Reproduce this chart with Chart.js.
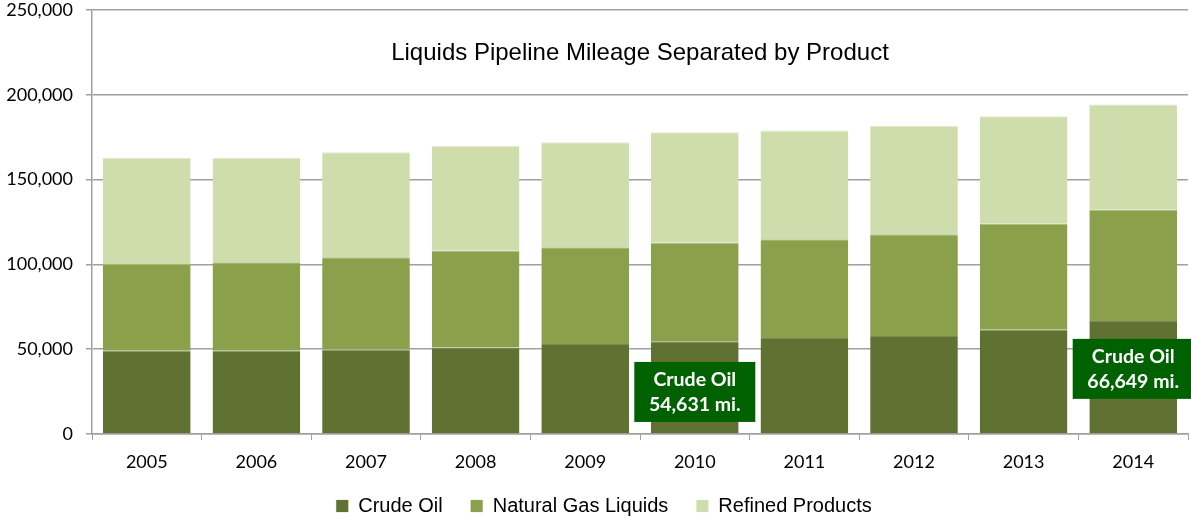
<!DOCTYPE html>
<html>
<head>
<meta charset="utf-8">
<script src="https://cdn.jsdelivr.net/npm/chart.js@4"></script>
<style>
    html, body { margin: 0; padding: 0; background: #fff; }
    #wrap { width: 1191px; height: 517px; }
</style>
</head>
<body>
<div id="wrap"><canvas id="chart" width="1191" height="517"></canvas></div>
<script>
// Data
const years = ['2005', '2006', '2007', '2008', '2009', '2010', '2011', '2012', '2013', '2014'];
const crudeOil = [49050, 49050, 49820, 51000, 53010, 54631, 56560, 57740, 61460, 66649];
const naturalGasLiquids = [51240, 52190, 54370, 57150, 57090, 58070, 58270, 60050, 62650, 65740];
const refinedProducts = [62650, 61700, 61880, 61640, 61880, 65190, 64070, 63830, 63240, 61880];
const yTicks = [0, 50000, 100000, 150000, 200000, 250000];
const chartTitle = 'Liquids Pipeline Mileage Separated by Product';

// Callout boxes on the crude oil bars
const callouts = [
    { index: 5, lines: ['Crude Oil', '54,631 mi.'] },
    { index: 9, lines: ['Crude Oil', '66,649 mi.'] }
];

const fmt = v => v.toLocaleString('en-US');

// Title drawn inside the plot area
const titlePlugin = {
    id: 'innerTitle',
    afterDraw(chart) {
        const { ctx, chartArea } = chart;
        ctx.save();
        ctx.fillStyle = '#000';
        ctx.font = '24px "Liberation Sans", Arial, sans-serif';
        ctx.textAlign = 'center';
        ctx.textBaseline = 'middle';
        ctx.fillText(chartTitle, (chartArea.left + chartArea.right) / 2, chartArea.top + 43);
        ctx.restore();
    }
};

const calloutPlugin = {
    id: 'callouts',
    afterDraw(chart) {
        const { ctx, scales } = chart;
        const offsets = { 5: 24800, 9: 38400 }; // vertical centre in axis units
        ctx.save();
        callouts.forEach(c => {
            const cx = scales.x.getPixelForValue(c.index);
            const cy = scales.y.getPixelForValue(offsets[c.index]);
            const w = 121, h = 60;
            ctx.fillStyle = '#006100';
            ctx.fillRect(cx - w / 2, cy - h / 2, w, h);
            ctx.fillStyle = '#fff';
            ctx.font = 'bold 19.5px Lato, "Open Sans", sans-serif';
            ctx.textAlign = 'center';
            ctx.textBaseline = 'middle';
            ctx.fillText(c.lines[0], cx, cy - 12);
            ctx.fillText(c.lines[1], cx, cy + 13);
        });
        ctx.restore();
    }
};

// pull the legend up a little so the x labels keep room, nudge it right
const legendShift = {
    id: 'legendShift',
    afterLayout(chart) {
        const l = chart.legend;
        l.top -= 8;
        l.bottom -= 8;
        l.left += 10;
        l.right += 10;
    }
};

const ctx = document.getElementById('chart').getContext('2d');
new Chart(ctx, {
    type: 'bar',
    data: {
        labels: years,
        datasets: [
            { label: 'Crude Oil', data: crudeOil, backgroundColor: '#5F7232', borderColor: '#7A8A55', borderWidth: { top: 1 } },
            { label: 'Natural Gas Liquids', data: naturalGasLiquids, backgroundColor: '#8AA04B', borderColor: '#A7B777', borderWidth: { top: 1 } },
            { label: 'Refined Products', data: refinedProducts, backgroundColor: '#CFDDAD', borderColor: '#E2EBCB', borderWidth: { top: 1 } }
        ]
    },
    options: {
        responsive: false,
        animation: false,
        layout: { padding: { top: 0, right: 3, bottom: -17 } },
        datasets: { bar: { categoryPercentage: 1, barPercentage: 0.8 } },
        plugins: {
            legend: {
                position: 'bottom',
                labels: {
                    color: '#000',
                    font: { family: '"Liberation Sans", Arial, sans-serif', size: 20 },
                    boxWidth: 12,
                    boxHeight: 12,
                    padding: 28
                }
            },
            tooltip: { enabled: false }
        },
        scales: {
            x: {
                stacked: true,
                grid: { display: true, drawOnChartArea: false, color: '#A0A0A0', tickLength: 6 },
                border: { color: '#A0A0A0', width: 1.5 },
                ticks: { color: '#000', font: { family: 'Lato, "Open Sans", sans-serif', size: 18 }, padding: 11 },
                afterFit: s => { s.height = 42; }
            },
            y: {
                stacked: true,
                min: 0,
                max: 250000,
                afterBuildTicks: s => { s.ticks = yTicks.map(v => ({ value: v })); },
                grid: { color: '#A0A0A0', lineWidth: 1.5, tickLength: 6 },
                border: { color: '#A0A0A0', width: 1.5 },
                ticks: { color: '#000', font: { family: 'Lato, "Open Sans", sans-serif', size: 18 }, padding: 13, callback: v => fmt(v) },
                afterFit: s => { s.width = 92; s.paddingTop = 10; s.paddingBottom = 10; }
            }
        }
    },
    plugins: [titlePlugin, calloutPlugin, legendShift]
});
</script>
</body>
</html>
